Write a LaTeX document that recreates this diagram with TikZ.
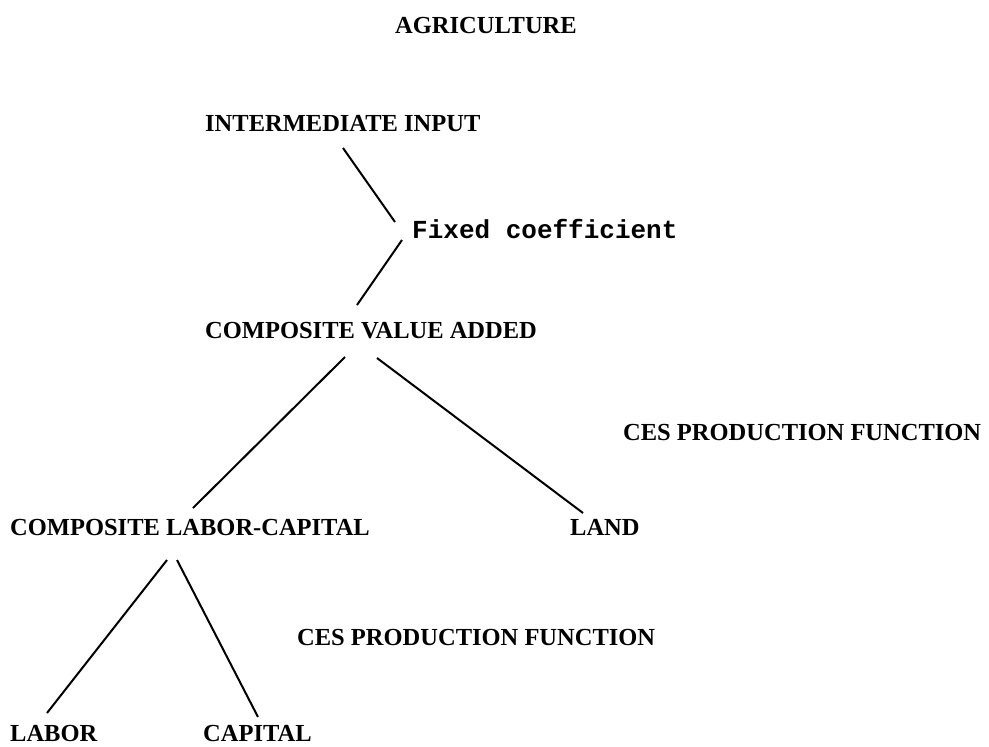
\documentclass[tikz,border=0pt]{standalone}
\usepackage{fontspec}
\setmainfont{Liberation Serif}
\newfontfamily\monofnt{Liberation Mono}
\begin{document}
\begin{tikzpicture}[x=1pt,y=-1pt,
  lbl/.style={anchor=base west,inner sep=0pt,font=\bfseries\fontsize{24.5}{30}\selectfont},
  mlbl/.style={anchor=base west,inner sep=0pt,font=\monofnt\bfseries\fontsize{26}{30}\selectfont},
  conn/.style={line width=2pt}]
\useasboundingbox[fill=white] (0,0) rectangle (989,747);
\node[lbl] (agr) at (395,33.5) {AGRICULTURE};
\node[lbl] (iin) at (205,131.5) {INTERMEDIATE INPUT};
\node[mlbl] (fix) at (412,238) {Fixed coefficient};
\node[lbl] (cva) at (205,338.5) {COMPOSITE VALUE ADDED};
\node[lbl] (ces1) at (623,440.5) {CES PRODUCTION FUNCTION};
\node[lbl] (clc) at (10,535.5) {COMPOSITE LABOR-CAPITAL};
\node[lbl] (land) at (570,535.5) {LAND};
\node[lbl] (ces2) at (297,645.5) {CES PRODUCTION FUNCTION};
\node[lbl] (labor) at (10,741.5) {LABOR};
\node[lbl] (capital) at (203,741.5) {CAPITAL};
\draw[conn] ([xshift=138pt,yshift=-16.5pt]iin.base west) -- ([xshift=-17pt,yshift=16pt]fix.base west);
\draw[conn] ([xshift=-10pt,yshift=-2pt]fix.base west) -- ([xshift=152pt,yshift=33.5pt]cva.base west);
\draw[conn] ([xshift=140pt,yshift=-18.5pt]cva.base west) -- ([xshift=183pt,yshift=27.5pt]clc.base west);
\draw[conn] ([xshift=172pt,yshift=-19.5pt]cva.base west) -- ([xshift=13pt,yshift=22.5pt]land.base west);
\draw[conn] ([xshift=157pt,yshift=-24.5pt]clc.base west) -- ([xshift=37pt,yshift=28.5pt]labor.base west);
\draw[conn] ([xshift=167pt,yshift=-24.5pt]clc.base west) -- ([xshift=55pt,yshift=24.5pt]capital.base west);
\end{tikzpicture}
\end{document}
